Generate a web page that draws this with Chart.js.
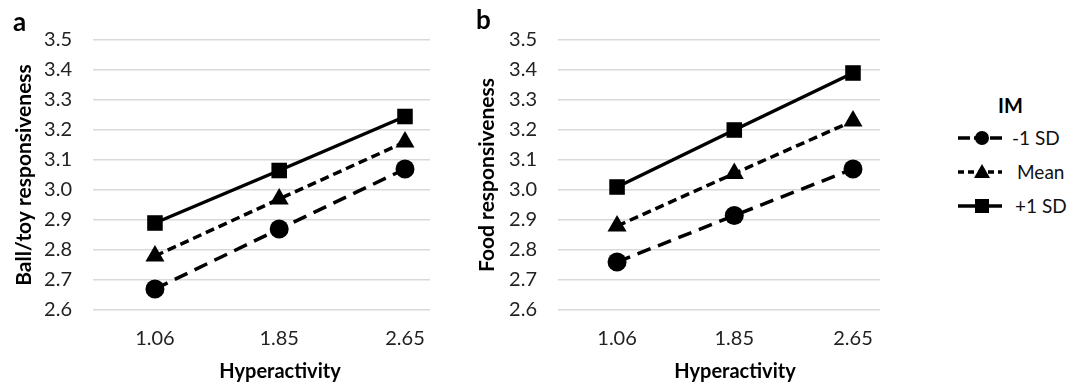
<!DOCTYPE html>
<html>
<head>
<meta charset="utf-8">
<script src="https://cdn.jsdelivr.net/npm/chart.js@4.4.0/dist/chart.umd.min.js"></script>
<style>
  body { margin: 0; background: #fff; font-family: Lato, sans-serif; }
  #wrap { position: relative; width: 1083px; height: 385px; }
  .box { position: absolute; top: 0; height: 385px; }
  .lbl { position: absolute; font-weight: bold; color: #000; }
  .xt { position: absolute; font-weight: bold; font-size: 20px; transform: translate(-50%, -50%); white-space: nowrap; }
  #legend { position: absolute; left: 950px; top: 90px; font-size: 19px; color: #111; }
  #legend .row { position: absolute; left: 0; height: 20px; white-space: nowrap; }
  #legend svg { position: absolute; left: 0; top: 0; }
  #legend span { position: absolute; top: 0; line-height: 20px; }
</style>
</head>
<body>
<div id="wrap">
  <div class="box" style="left:0;width:460px"><canvas id="chartA" width="460" height="385"></canvas></div>
  <div class="box" style="left:460px;width:440px"><canvas id="chartB" width="440" height="385"></canvas></div>
  <div class="lbl" style="left:13px;top:5px;font-size:26px">a</div>
  <div class="lbl" style="left:476px;top:3px;font-size:26px">b</div>
  <div class="xt" style="left:280px;top:370px">Hyperactivity</div>
  <div class="xt" style="left:735px;top:370px">Hyperactivity</div>
  <div id="legend"></div>
</div>
<script>
// x values (hyperactivity levels)
var hyper = [1.06, 1.85, 2.65];
var seriesNames = ['-1 SD', 'Mean', '+1 SD'];
var yTicks = [2.6, 2.7, 2.8, 2.9, 3.0, 3.1, 3.2, 3.3, 3.4, 3.5];

// panel a: ball/toy responsiveness
var ballLow  = [2.67, 2.87, 3.07];
var ballMean = [2.78, 2.97, 3.16];
var ballHigh = [2.89, 3.065, 3.245];

// panel b: food responsiveness
var foodLow  = [2.76, 2.915, 3.07];
var foodMean = [2.88, 3.055, 3.23];
var foodHigh = [3.01, 3.20, 3.39];

var styles = [
  { dash: [14, 8], point: 'circle', r: 9.5 },
  { dash: [9, 5], point: 'triangle', r: 11 },
  { dash: [], point: 'rect', r: 11 }
];

function pts(vals) {
  return vals.map(function(v, i) { return { x: hyper[i], y: v }; });
}

function makeChart(id, series, yTitle, opt) {
  var ctx = document.getElementById(id).getContext('2d');
  return new Chart(ctx, {
    type: 'line',
    data: {
      datasets: series.map(function(s, i) {
        return {
          label: seriesNames[i],
          data: pts(s),
          borderColor: '#000',
          backgroundColor: '#000',
          borderWidth: 3.5,
          borderDash: styles[i].dash,
          pointStyle: styles[i].point,
          pointRadius: styles[i].r,
          pointBorderWidth: 0,
          fill: false,
          tension: 0
        };
      })
    },
    options: {
      responsive: false,
      animation: false,
      layout: { padding: { left: 0, right: opt.padRight, top: 40, bottom: 0 } },
      plugins: { legend: { display: false }, tooltip: { enabled: false } },
      scales: {
        x: {
          type: 'linear',
          min: opt.xMin,
          max: opt.xMax,
          afterBuildTicks: function(axis) {
            axis.ticks = hyper.map(function(v) { return { value: v }; });
          },
          afterFit: function(axis) { axis.height = 385 - 40 - 270; },
          grid: { display: false, drawTicks: false },
          border: { display: false },
          ticks: {
            padding: 17,
            color: '#222',
            font: { family: 'Lato', size: 20 },
            callback: function(v) { return v.toFixed(2); }
          }
        },
        y: {
          min: 2.6,
          max: 3.5,
          afterBuildTicks: function(axis) {
            axis.ticks = yTicks.map(function(v) { return { value: v }; });
          },
          afterFit: function(axis) { axis.width = opt.yWidth; },
          grid: { color: '#d9d9d9', lineWidth: 1.5, drawTicks: false },
          border: { display: false },
          ticks: {
            padding: 21,
            color: '#222',
            font: { family: 'Lato', size: 20 },
            callback: function(v) { return v.toFixed(1); }
          },
          title: {
            display: true,
            text: yTitle,
            color: '#000',
            padding: { top: opt.titlePad, bottom: 0 },
            font: { family: 'Lato', size: 21, weight: 'bold' }
          }
        }
      }
    }
  });
}

makeChart('chartA', [ballLow, ballMean, ballHigh], 'Ball/toy responsiveness',
  { xMin: 0.666, xMax: 2.809, yWidth: 93, padRight: 30, titlePad: 12 });
makeChart('chartB', [foodLow, foodMean, foodHigh], 'Food responsiveness',
  { xMin: 0.662, xMax: 2.832, yWidth: 98, padRight: 20, titlePad: 15 });

// legend
var leg = document.getElementById('legend');
var title = document.createElement('div');
title.textContent = 'IM';
title.style.cssText = 'position:absolute;left:48px;top:3px;font-weight:bold;font-size:20px;color:#000;';
leg.appendChild(title);
var markers = [
  '<circle cx="32" cy="10" r="7" fill="#000"/>',
  '<polygon points="32,2 40,16 24,16" fill="#000"/>',
  '<rect x="25" y="3" width="14" height="14" fill="#000"/>'
];
var legDash = ['12,4', '6,4', ''];
var textLeft = [62, 67, 65];
seriesNames.forEach(function(name, i) {
  var row = document.createElement('div');
  row.className = 'row';
  row.style.top = (38 + i * 34) + 'px';
  row.innerHTML = '<svg width="60" height="20"><line x1="8" y1="10" x2="52" y2="10" stroke="#000" stroke-width="3.5"' +
    (legDash[i] ? ' stroke-dasharray="' + legDash[i] + '"' : '') + '/>' + markers[i] + '</svg>' +
    '<span style="left:' + textLeft[i] + 'px">' + name + '</span>';
  leg.appendChild(row);
});
</script>
</body>
</html>
